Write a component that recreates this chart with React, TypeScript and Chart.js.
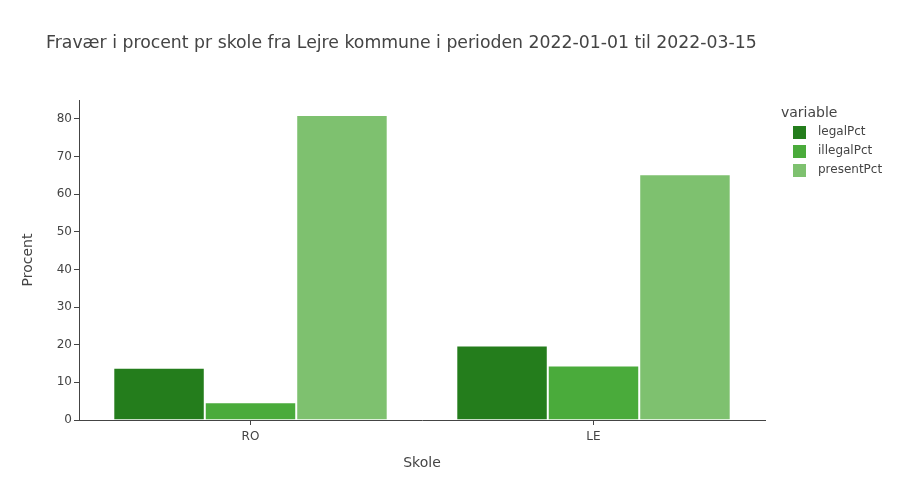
import React, { useEffect, useRef } from "react";
import { Chart, registerables } from "chart.js";

Chart.register(...registerables);

const TITLE = "Fravær i procent pr skole fra Lejre kommune i perioden 2022-01-01 til 2022-03-15";
const X_TITLE = "Skole";
const Y_TITLE = "Procent";
const categories = ["RO", "LE"];
const seriesNames = ["legalPct", "illegalPct", "presentPct"];
const legalPct = [13.9, 19.8];
const illegalPct = [4.7, 14.5];
const presentPct = [81.0, 65.3];
const seriesColors = ["#247d1c", "#4aab3b", "#7ec16f"];
const yTicks = [0, 10, 20, 30, 40, 50, 60, 70, 80];

const FONT = "'DejaVu Sans', Verdana, Arial, sans-serif";
const TEXT = "#444";

const overlay = {
  id: "overlay",
  afterDraw(chart: any) {
    const ctx = chart.ctx;
    const area = chart.chartArea;
    ctx.save();
    ctx.fillStyle = TEXT;
    ctx.font = `17.3px ${FONT}`;
    ctx.textAlign = "left";
    ctx.textBaseline = "middle";
    ctx.fillText(TITLE, 46, 44);

    ctx.font = `14px ${FONT}`;
    ctx.textAlign = "center";
    ctx.fillText(X_TITLE, (area.left + area.right) / 2, 463);
    ctx.save();
    ctx.translate(28, (area.top + area.bottom) / 2);
    ctx.rotate(-Math.PI / 2);
    ctx.fillText(Y_TITLE, 0, 0);
    ctx.restore();

    ctx.textAlign = "left";
    ctx.fillText("variable", 781, 113);
    ctx.font = `12px ${FONT}`;
    chart.data.datasets.forEach((ds: any, i: number) => {
      const y = 132 + i * 19;
      ctx.fillStyle = ds.backgroundColor;
      ctx.fillRect(793, y - 6, 13, 13);
      ctx.fillStyle = TEXT;
      ctx.fillText(ds.label, 818, y);
    });
    ctx.restore();
  },
};

export default function App() {
  const ref = useRef<HTMLCanvasElement>(null);
  useEffect(() => {
    document.body.style.margin = "0";
    const values = [legalPct, illegalPct, presentPct];
    const chart = new Chart(ref.current!, {
      type: "bar",
      data: {
        labels: categories,
        datasets: seriesNames.map((name, i) => ({
          label: name,
          data: values[i],
          backgroundColor: seriesColors[i],
          borderColor: "rgba(255,255,255,0.8)",
          borderWidth: 1,
          categoryPercentage: 0.8,
          barPercentage: 1.0,
        })),
      },
      options: {
        animation: false,
        responsive: false,
        layout: { padding: { left: 0, top: 100, right: 135, bottom: 0 } },
        plugins: {
          legend: { display: false },
          title: { display: false },
          tooltip: { enabled: false },
        },
        scales: {
          x: {
            grid: {
              display: true,
              offset: false,
              drawOnChartArea: false,
              drawTicks: true,
              tickLength: 5,
              color: TEXT,
            },
            border: { display: true, color: TEXT, width: 1 },
            ticks: { color: TEXT, font: { family: FONT, size: 12 }, padding: 5 },
            title: { display: false },
            afterFit: (s: any) => {
              s.height = 80;
            },
          },
          y: {
            min: 0,
            max: 85,
            afterBuildTicks: (s: any) => {
              s.ticks = yTicks.map((v) => ({ value: v }));
            },
            grid: {
              display: true,
              drawOnChartArea: false,
              drawTicks: true,
              tickLength: 5,
              color: TEXT,
            },
            border: { display: true, color: TEXT, width: 1 },
            ticks: { color: TEXT, font: { family: FONT, size: 12 }, padding: 2 },
            title: { display: false },
            afterFit: (s: any) => {
              s.width = 79;
            },
          },
        },
      },
      plugins: [overlay],
    });
    return () => chart.destroy();
  }, []);
  return (
    <div style={{ width: 900, height: 500, background: "#fff" }}>
      <canvas ref={ref} width={900} height={500} />
    </div>
  );
}
